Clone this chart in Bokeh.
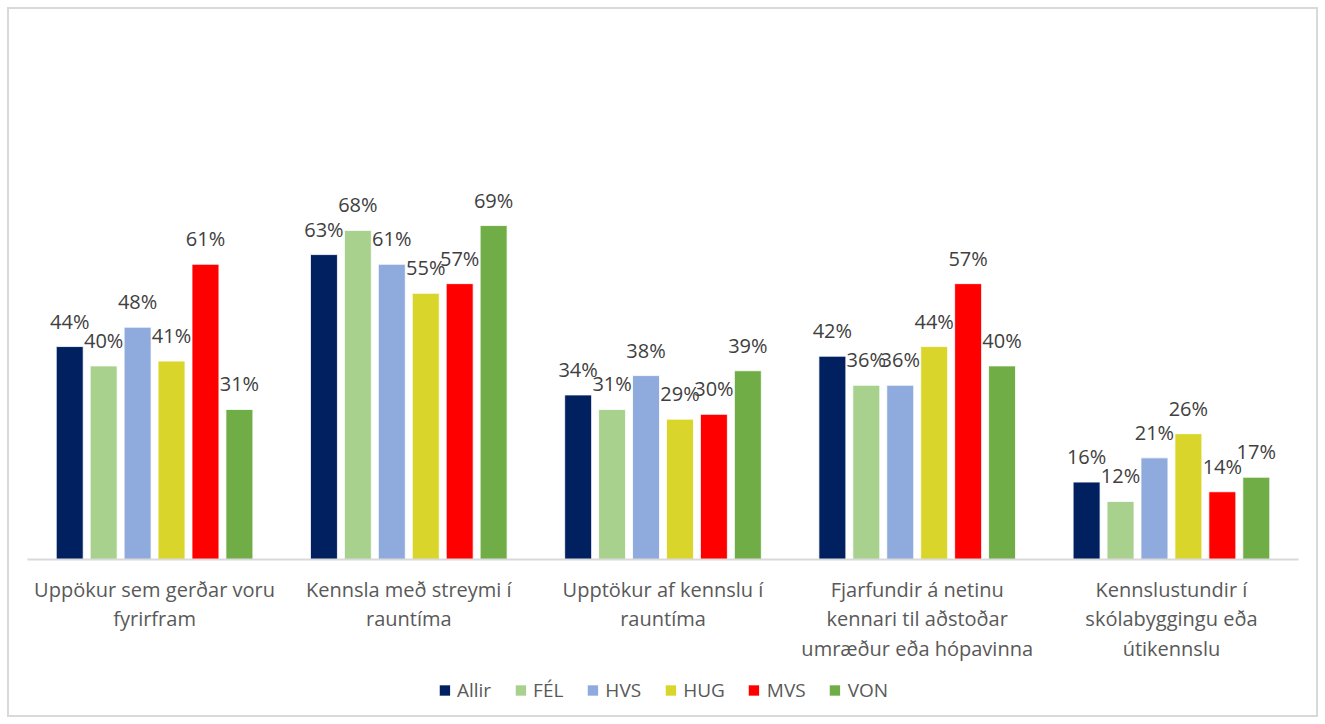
from bokeh.plotting import figure
from bokeh.models import ColumnDataSource, FactorRange, Legend, LegendItem, LabelSet
from bokeh.core.properties import value
from bokeh.transform import dodge
from bokeh.embed import file_html
from bokeh.resources import INLINE

categories = [
    "Uppökur sem gerðar voru\nfyrirfram",
    "Kennsla með streymi í\nrauntíma",
    "Upptökur af kennslu í\nrauntíma",
    "Fjarfundir á netinu\nkennari til aðstoðar\numræður eða hópavinna",
    "Kennslustundir í\nskólabyggingu eða\nútikennslu",
]
series = ["Allir", "FÉL", "HVS", "HUG", "MVS", "VON"]
allir = [44, 63, 34, 42, 16]
fel = [40, 68, 31, 36, 12]
hvs = [48, 61, 38, 36, 21]
hug = [41, 55, 29, 44, 26]
mvs = [61, 57, 30, 57, 14]
von = [31, 69, 39, 40, 17]
colors = ["#002060", "#A9D18E", "#8FAADC", "#D9D52B", "#FF0000", "#70AD47"]

values = [allir, fel, hvs, hug, mvs, von]

FONT = "Open Sans"

p = figure(
    x_range=FactorRange(*categories, range_padding=0.0785, range_padding_units="absolute"),
    y_range=(-32.64, 114.05),
    width=1311,
    height=710,
    output_backend="svg",
    toolbar_location=None,
    min_border=0,
    margin=(7, 0, 0, 7),
)
p.outline_line_color = "#d9d9d9"
p.outline_line_width = 3

src_data = {"cat": categories}
for name, vals in zip(series, values):
    src_data[name] = vals
    src_data[name + "_lbl"] = [f"{v}%" for v in vals]
source = ColumnDataSource(src_data)

step = 0.1335
bw = 0.106
items = []
for i, (name, col) in enumerate(zip(series, colors)):
    off = (i - 2.5) * step
    r = p.vbar(x=dodge("cat", off, range=p.x_range), top=name, width=bw,
               source=source, fill_color=col, line_color="white", line_width=0.8)
    items.append(LegendItem(label=name, renderers=[r]))
    lbl = LabelSet(x=dodge("cat", off, range=p.x_range), y=name, text=name + "_lbl",
                   source=source, text_align="center", text_baseline="bottom",
                   y_offset=12, text_font=value(FONT), text_font_size="20px",
                   text_color="#404040")
    p.add_layout(lbl)

p.yaxis.visible = False
p.grid.visible = False
p.xaxis.fixed_location = 0
p.xaxis.bounds = (0, 5)
p.xaxis.axis_line_color = "#d9d9d9"
p.xaxis.axis_line_width = 2
p.xaxis.major_tick_line_color = None
p.xaxis.minor_tick_line_color = None
p.xaxis.major_label_text_font = FONT
p.xaxis.major_label_text_font_size = "20px"
p.xaxis.major_label_text_color = "#595959"
p.xaxis.major_label_text_line_height = 1.1
p.xaxis.major_label_standoff = 10

legend = Legend(items=items, orientation="horizontal", location="bottom_center",
                label_text_font=FONT, label_text_font_size="19px",
                label_text_color="#595959", glyph_width=14, glyph_height=14,
                spacing=22, label_standoff=6, border_line_color=None,
                background_fill_alpha=0, padding=2, margin=14)
p.add_layout(legend)

open("out.html", "w").write(file_html(p, INLINE))
